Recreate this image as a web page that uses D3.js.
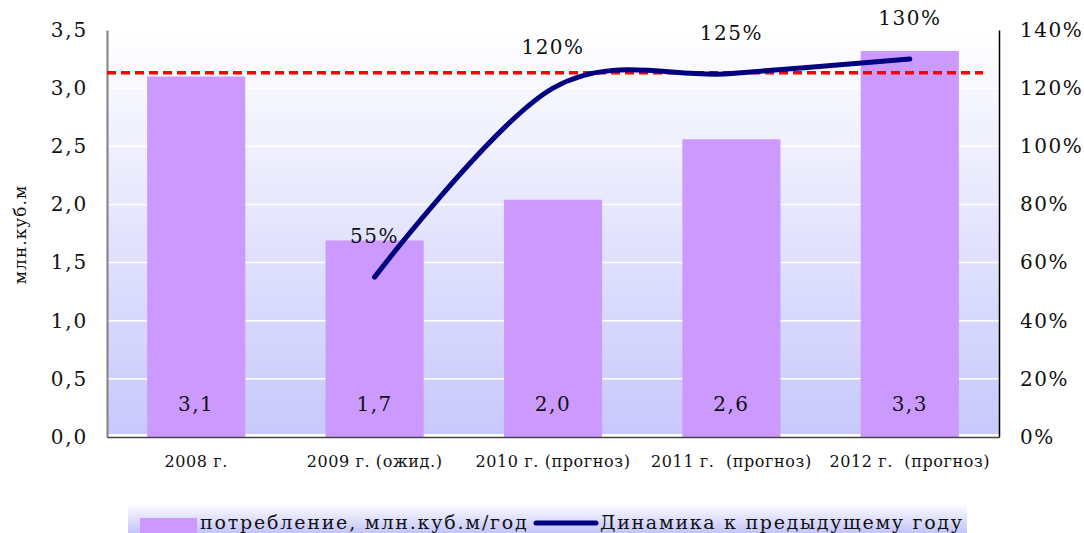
<!DOCTYPE html>
<html><head><meta charset="utf-8">
<script src="https://cdn.jsdelivr.net/npm/d3@7"></script>
<style>body{margin:0;background:#fff}svg{display:block}text{font-family:"DejaVu Serif",serif;fill:#111;white-space:pre}</style>
</head><body><svg id="c" width="1084" height="533"></svg>
<script>
const categories = ["2008 г.", "2009 г. (ожид.)", "2010 г. (прогноз)", "2011 г.  (прогноз)", "2012 г.  (прогноз)"];
const consumption = [3.1, 1.69, 2.04, 2.56, 3.32];
const dynamics = [null, 55, 120, 125, 130];
const leftTicks = [0, 0.5, 1, 1.5, 2, 2.5, 3, 3.5];
const rightTicks = [0, 20, 40, 60, 80, 100, 120, 140];
const referenceLevel = 125.3;
const seriesNames = ["потребление, млн.куб.м/год", "Динамика к предыдущему году"];
const yTitle = "млн.куб.м";

const svg = d3.select("#c");
const L = 107, R = 999, T = 30, B = 437;
const x = d3.scaleBand().domain(categories).range([L, R]).paddingInner(0.45).paddingOuter(0.225);
const xc = c => x(c) + x.bandwidth()/2;
const y = d3.scaleLinear().domain([0, 3.5]).range([B, T]);
const y2 = d3.scaleLinear().domain([0, 140]).range([B, T]);
const fmt = v => d3.format(".1f")(v).replace(".", ",");

const defs = svg.append("defs");
const g1 = defs.append("linearGradient").attr("id","pg").attr("x1",0).attr("y1",0).attr("x2",0).attr("y2",1);
g1.append("stop").attr("offset","0%").attr("stop-color","#ffffff");
g1.append("stop").attr("offset","100%").attr("stop-color","#c8c8fc");
const g2 = defs.append("linearGradient").attr("id","lg").attr("x1",0).attr("y1",0).attr("x2",0).attr("y2",1);
g2.append("stop").attr("offset","0%").attr("stop-color","#ffffff");
g2.append("stop").attr("offset","100%").attr("stop-color","#c4c4fa");

svg.append("rect").attr("x", L).attr("y", T).attr("width", R-L).attr("height", B-T-3).attr("fill","url(#pg)");
svg.append("g").selectAll("line").data(leftTicks.slice(1)).join("line")
  .attr("x1", L).attr("x2", R).attr("y1", d=>y(d)).attr("y2", d=>y(d))
  .attr("stroke","#fff").attr("stroke-width",1.5);

svg.append("g").selectAll("rect").data(consumption).join("rect")
  .attr("x",(d,i)=>x(categories[i])).attr("width",x.bandwidth())
  .attr("y",d=>y(d)).attr("height",d=>B-y(d)).attr("fill","#cc99ff");
svg.append("g").selectAll("text").data(consumption).join("text")
  .attr("x",(d,i)=>xc(categories[i])).attr("y", y(0.28))
  .attr("text-anchor","middle").attr("dominant-baseline","central")
  .style("font-size","20px").style("letter-spacing","1.5px").text(d=>fmt(d));

// axes
const ya = svg.append("g").attr("transform",`translate(${L},0)`)
  .call(d3.axisLeft(y).tickValues(leftTicks).tickSize(0).tickPadding(19).tickFormat(fmt));
ya.select(".domain").attr("stroke","#808080").attr("stroke-width",2);
ya.selectAll("text").style("font-size","20px").style("font-family","DejaVu Serif").style("letter-spacing","1.8px").attr("fill","#111");
const ya2 = svg.append("g").attr("transform",`translate(${R},0)`)
  .call(d3.axisRight(y2).tickValues(rightTicks).tickSize(0).tickPadding(21).tickFormat(d=>d+"%"));
ya2.select(".domain").attr("stroke","#000").attr("stroke-width",1.5);
ya2.selectAll("text").style("font-size","20px").style("font-family","DejaVu Serif").style("letter-spacing","1.5px").attr("fill","#111");
const xa = svg.append("g").attr("transform",`translate(0,${B})`)
  .call(d3.axisBottom(x).tickSize(0).tickPadding(19));
xa.select(".domain").attr("stroke","#444").attr("stroke-width",1.5);
xa.selectAll("text").style("font-size","16px").style("font-family","DejaVu Serif").style("letter-spacing","0.6px").attr("fill","#111");

svg.append("text").attr("transform",`translate(20,${(T+B)/2+1}) rotate(-90)`)
  .attr("text-anchor","middle").attr("dominant-baseline","central").style("font-size","17px").style("letter-spacing","1px").text(yTitle);

// reference
svg.append("line").attr("x1",L).attr("x2",983).attr("y1",y2(referenceLevel)).attr("y2",y2(referenceLevel))
  .attr("stroke","#ff0000").attr("stroke-width",3.5).attr("stroke-dasharray","9,5");

// line
const pts = dynamics.map((d,i)=>[xc(categories[i]), d]).filter(p=>p[1]!=null);
svg.append("path").datum(pts)
  .attr("d", d3.line().x(p=>p[0]).y(p=>y2(p[1])).curve(d3.curveCatmullRom.alpha(0)))
  .attr("fill","none").attr("stroke","#000080").attr("stroke-width",5).attr("stroke-linecap","round");
svg.append("g").selectAll("text").data(pts).join("text")
  .attr("x",p=>p[0]).attr("y",p=>y2(p[1])-41).attr("text-anchor","middle").attr("dominant-baseline","central")
  .style("font-size","20px").style("letter-spacing","1.5px").text(p=>p[1]+"%");

// legend
const lg = svg.append("g");
lg.append("rect").attr("x",128).attr("y",503).attr("width",839).attr("height",30).attr("fill","url(#lg)");
lg.append("rect").attr("x",140).attr("y",518).attr("width",57).attr("height",15).attr("fill","#cc99ff");
lg.append("text").attr("x",200).attr("y",529).style("font-size","19px").style("letter-spacing","1.8px").text(seriesNames[0]);
lg.append("line").attr("x1",536).attr("x2",596).attr("y1",523).attr("y2",523).attr("stroke","#000080").attr("stroke-width",5).attr("stroke-linecap","round");
lg.append("text").attr("x",600).attr("y",529).style("font-size","19px").style("letter-spacing","1.7px").text(seriesNames[1]);
</script></body></html>
